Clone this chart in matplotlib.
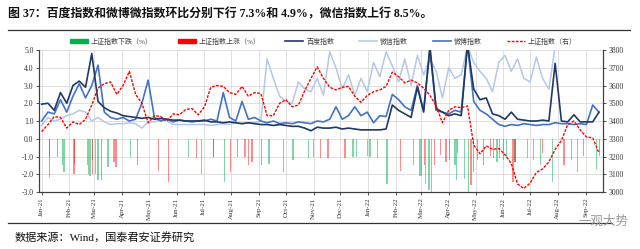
import numpy as np
import pandas as pd
import matplotlib
matplotlib.use("Agg")
import matplotlib.pyplot as plt
import matplotlib.dates as mdates
from matplotlib.patches import Patch
from matplotlib.lines import Line2D

plt.rcParams['font.family'] = ['Liberation Serif', 'Noto Sans CJK SC', 'DejaVu Sans']

# ---------------- data ----------------
week_start = "2021-01-01"
n_weeks = 90
dates = pd.date_range(week_start, periods=n_weeks, freq="7D")

baidu = [1.95, 2.0, 1.6, 2.6, 2.0, 3.0, 3.25, 2.9, 4.8, 2.1,
         1.75, 1.55, 1.45, 1.3, 1.25, 1.2, 1.15, 1.2, 1.1, 1.15,
         1.1, 1.05, 1.05, 1.0, 1.0, 1.0, 1.05, 0.95, 0.95, 0.9,
         0.95, 0.9, 0.85, 0.9, 0.85, 0.8, 0.8, 0.75, 0.8, 0.75,
         0.7, 0.7, 0.6, 0.45, 0.65, 0.6, 0.6, 0.65, 0.55, 0.6,
         0.55, 0.5, 0.5, 0.5, 0.5, 0.55, 1.9, 1.6, 1.4, 1.2,
         2.9, 1.5, 5.2, 1.7, 1.5, 1.3, 1.4, 1.3, 5.3, 2.8,
         2.2, 2.3, 1.4, 1.3, 1.1, 1.5, 1.1, 1.05, 1.0, 1.0,
         1.05, 1.0, 4.25, 1.0, 0.95, 1.35, 0.95, 0.95, 0.95, 1.5]

weibo = [1.0, 1.5, 1.4, 2.2, 1.5, 2.4, 3.1, 2.3, 3.0, 4.15,
         1.5, 1.2, 1.1, 1.2, 1.0, 1.1, 2.0, 3.3, 1.2, 1.0,
         1.1, 0.95, 1.05, 1.0, 0.95, 1.0, 1.0, 1.1, 1.0, 2.6,
         1.2, 1.0, 2.1, 1.1, 1.2, 1.0, 0.9, 1.0, 0.85, 0.9,
         0.85, 0.95, 0.9, 0.85, 1.0, 0.95, 1.1, 1.8, 1.1, 1.3,
         1.8, 1.3, 1.5, 0.9, 1.3, 1.25, 2.5, 2.2, 1.8, 1.6,
         3.0, 1.6, 5.0, 1.6, 1.5, 1.4, 1.6, 1.5, 5.3, 2.1,
         1.6, 1.4, 1.1, 0.8, 0.7, 0.8, 0.75, 0.85, 0.8, 0.75,
         0.8, 0.8, 0.9, 0.85, 0.85, 0.8, 0.85, 0.8, 1.9, 1.5]

wechat = [0.75, 1.2, 1.0, 1.1, 1.3, 1.4, 1.6, 1.5, 1.0, 1.2,
          0.95, 0.8, 0.85, 0.85, 0.9, 0.85, 0.6, 0.95, 0.95, 1.1,
          1.0, 0.8, 0.8, 0.8, 0.8, 0.8, 0.8, 0.75, 0.8, 0.85,
          0.8, 0.9, 0.85, 0.9, 0.9, 1.0, 4.5, 3.4, 2.4, 2.1,
          2.0, 3.2, 2.8, 2.65, 3.4, 2.45, 4.9, 4.0, 2.8, 3.6,
          2.45, 3.4, 2.65, 4.3, 3.5, 4.9, 4.1, 3.2, 4.5, 3.0,
          4.7, 3.6, 4.5, 3.8, 2.3, 4.0, 3.4, 3.6, 5.2, 4.3,
          3.8, 3.4, 2.65, 4.3, 4.7, 3.8, 4.5, 3.4, 3.2, 4.6,
          3.4, 2.8, 5.2, np.nan, np.nan, np.nan, np.nan, np.nan, np.nan, np.nan]

sh_index = [3340, 3380, 3425, 3420, 3360, 3395, 3380, 3410, 3490, 3585,
            3610, 3620, 3550, 3600, 3680, 3550, 3500, 3390, 3430, 3425,
            3400, 3440, 3435, 3465, 3470, 3435, 3480, 3590, 3600, 3595,
            3560, 3550, 3595, 3540, 3560, 3555, 3430, 3430, 3500, 3520,
            3480, 3490, 3570, 3640, 3705, 3640, 3590, 3575, 3590, 3595,
            3540, 3505, 3545, 3565, 3575, 3595, 3675, 3650, 3615, 3630,
            3615, 3585, 3545, 3485, 3390, 3460, 3480, 3475, 3485, 3265,
            3215, 3260, 3240, 3245, 3210, 3160, 3045, 3020, 3050, 3110,
            3130, 3170, 3240, 3290, 3380, 3400, 3350, 3310, 3305, 3220]

down_dates = ["2021-01-10", "2021-01-24", "2021-01-26", "2021-02-21", "2021-02-22",
              "2021-02-24", "2021-02-27", "2021-03-02", "2021-03-05", "2021-03-16",
              "2021-03-22", "2021-04-10", "2021-06-14", "2021-06-29", "2021-07-12",
              "2021-07-24", "2021-08-17", "2021-09-12", "2021-09-28", "2021-10-09",
              "2021-10-26", "2021-11-01", "2021-12-15", "2021-12-19", "2021-12-31",
              "2022-01-03", "2022-01-11", "2022-01-22", "2022-02-21", "2022-02-28",
              "2022-03-02", "2022-03-06", "2022-03-10", "2022-03-13", "2022-04-08",
              "2022-04-10", "2022-04-19", "2022-04-23", "2022-05-25", "2022-05-28",
              "2022-06-05", "2022-06-14", "2022-06-28", "2022-07-05", "2022-07-13",
              "2022-07-26", "2022-08-16", "2022-08-23", "2022-09-13"]
down_vals = [-1.0, -1.5, -1.9, -1.5, -2.0,
             -2.1, -1.2, -2.0, -2.3, -1.6,
             -1.3, -1.0, -1.0, -2.0, -1.0,
             -2.45, -1.0, -1.4, -1.85, -1.2,
             -1.1, -1.0, -1.0, -1.0, -0.95,
             -1.0, -1.1, -2.55, -1.5, -2.1,
             -2.1, -2.55, -2.9, -3.0, -1.5,
             -2.35, -2.26, -3.0, -1.3, -1.1,
             -1.1, -1.3, -1.1, -1.2, -1.5,
             -2.45, -1.2, -1.9, -1.7]

up_dates = ["2021-01-10", "2021-01-19", "2021-02-06", "2021-02-07", "2021-02-27",
            "2021-03-09", "2021-03-23", "2021-03-25", "2021-04-18", "2021-05-12",
            "2021-05-23", "2021-06-23", "2021-07-12", "2021-07-31", "2021-08-08",
            "2021-08-16", "2021-08-20", "2021-08-24", "2021-09-04", "2021-11-09",
            "2021-11-17", "2021-12-06", "2022-02-06", "2022-03-05", "2022-03-16",
            "2022-03-23", "2022-03-29", "2022-04-02", "2022-04-11", "2022-04-26",
            "2022-04-29", "2022-05-03", "2022-05-10", "2022-05-18", "2022-05-21",
            "2022-06-01", "2022-06-12", "2022-06-14", "2022-07-15", "2022-08-08",
            "2022-08-30", "2022-09-17"]
up_vals = [-2.15, -1.0, -2.0, -1.4, -2.0,
           -2.35, -1.3, -1.6, -1.5, -1.8,
           -2.45, -1.1, -1.0, -1.9, -1.0,
           -1.0, -1.5, -1.3, -1.5, -1.1,
           -1.1, -1.1, -1.8, -1.5, -1.5,
           -0.9, -1.3, -1.2, -0.8, -2.6,
           -1.9, -1.2, -1.5, -0.95, -1.1,
           -1.2, -2.45, -1.3, -0.8, -1.5,
           -0.95, -0.95]

title = "图 37：百度指数和微博微指数环比分别下行 7.3%和 4.9%，微信指数上行 8.5%。"
source = "数据来源：Wind，国泰君安证券研究"
labels = ["上证指数下跌（%）", "上证指数上涨（%）", "百度指数", "微信指数", "微博指数", "上证指数（右）"]

# ---------------- styles ----------------
c_down = "#00B050"
c_up = "#FF0000"
c_baidu = "#1F3864"
c_weibo = "#4472C4"
c_wechat = "#B4C7E7"
c_sh = "#FF0000"

fig = plt.figure(figsize=(6.4, 2.49), dpi=100)
W, H = 640, 249
ax = fig.add_axes([39 / W, 1 - 192 / H, (603 - 39) / W, (192 - 50) / H])

ax.bar(pd.to_datetime(down_dates), down_vals, width=1.4, color=c_down, alpha=0.5, lw=0, zorder=2)
ax.bar(pd.to_datetime(up_dates), up_vals, width=1.4, color=c_up, alpha=0.45, lw=0, zorder=2)

ax.plot(dates, wechat, color=c_wechat, lw=1.1, zorder=3)
ax.plot(dates, weibo, color=c_weibo, lw=1.2, zorder=4)
ax.plot(dates, baidu, color=c_baidu, lw=1.2, zorder=5)

ax.set_ylim(-3, 5)
ax.set_yticks(np.arange(-3, 5.01, 1))
ax.set_yticklabels([f"{v:.1f}" for v in np.arange(-3, 5.01, 1)])
ax.set_xlim(pd.Timestamp("2020-12-29"), pd.Timestamp("2022-09-20 12:00"))
ax.xaxis.set_major_locator(mdates.MonthLocator())
ax.xaxis.set_major_formatter(mdates.DateFormatter("%b-%y"))
ax.tick_params(axis="x", labelrotation=90, labelsize=5, length=2, width=0.6, colors="#333333", pad=2)
ax.tick_params(axis="y", labelsize=5.5, length=2, width=0.6, colors="#333333", pad=2)
ax.grid(True, color="#D9D9D9", lw=0.6)
ax.set_axisbelow(True)
for s in ["left", "bottom", "right"]:
    ax.spines[s].set_color("#404040")
    ax.spines[s].set_linewidth(0.8)
ax.spines["top"].set_visible(False)

ax2 = ax.twinx()
ax2.plot(dates, sh_index, color=c_sh, lw=1.0, ls=(0, (2, 1)), zorder=6)
ax2.set_ylim(3000, 3800)
ax2.set_yticks(np.arange(3000, 3801, 100))
ax2.tick_params(axis="y", labelsize=5.5, length=2, width=0.6, colors="#333333", pad=2)
for s in ["left", "bottom", "right"]:
    ax2.spines[s].set_color("#404040")
    ax2.spines[s].set_linewidth(0.8)
ax2.spines["top"].set_visible(False)

handles = [Patch(color=c_down), Patch(color=c_up),
           Line2D([], [], color=c_baidu, lw=1.2),
           Line2D([], [], color=c_wechat, lw=1.1),
           Line2D([], [], color=c_weibo, lw=1.2),
           Line2D([], [], color=c_sh, lw=1.0, ls=(0, (2, 1)))]
leg = fig.legend(handles, labels, loc="center left", bbox_to_anchor=(70 / W, 1 - 41 / H),
                 ncol=6, frameon=False, fontsize=5, handlelength=2.6, handleheight=0.6,
                 handletextpad=0.4, columnspacing=3.6, borderaxespad=0, borderpad=0)
for t in leg.get_texts():
    t.set_color("#404040")

fig.text(8 / W, 1 - 14 / H, title, fontsize=8.6, fontweight="bold", va="center", ha="left", color="#111111")
fig.add_artist(Line2D([8 / W, 630 / W], [1 - 30 / H, 1 - 30 / H], color="#333333", lw=0.9))
fig.add_artist(Line2D([8 / W, 612 / W], [1 - 223 / H, 1 - 223 / H], color="#333333", lw=0.9))
fig.text(15 / W, 1 - 237 / H, source, fontsize=8, va="center", ha="left", color="#111111")
fig.text(578 / W, 1 - 222 / H, "一观大势", fontsize=9, va="center", ha="left", color="#9A9A9A")

fig.savefig("out.png", dpi=100)
